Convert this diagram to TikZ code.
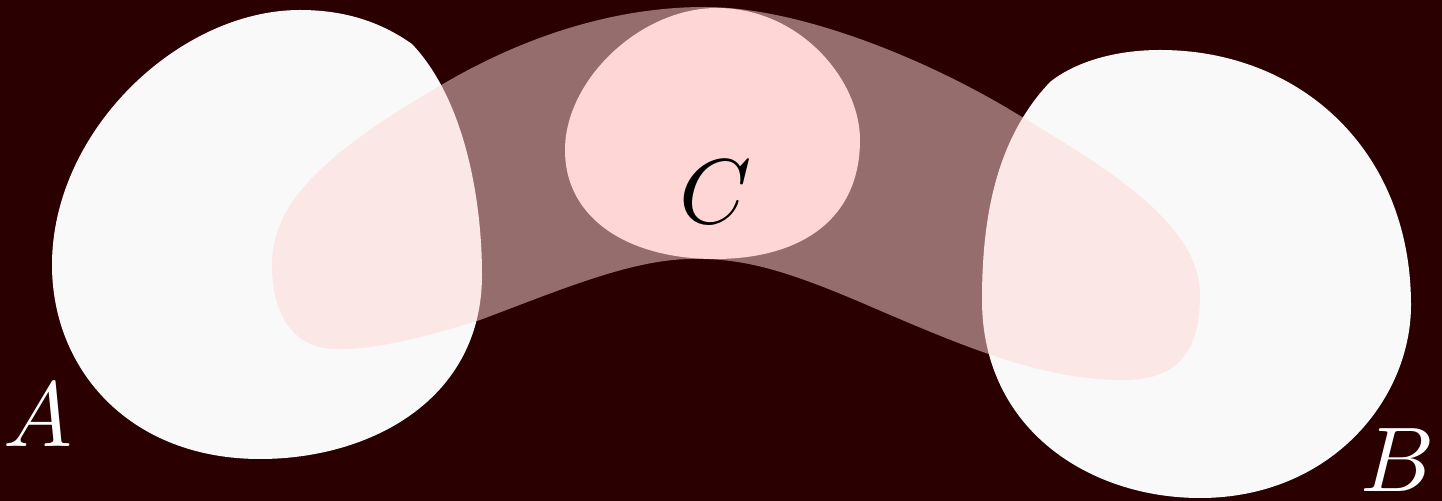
\documentclass[tikz,border=0pt]{standalone}
\definecolor{nightbg}{RGB}{42,0,0}
\definecolor{blobwhite}{RGB}{249,249,249}
\definecolor{blobpink}{RGB}{255,214,214}
\begin{document}
\begin{tikzpicture}[x=0.5pt,y=-0.5pt,
  setblob/.style={fill=blobwhite},
  bandblob/.style={fill=blobpink, fill opacity=0.51},
  midblob/.style={fill=blobpink},
  setlabel/.style={inner sep=0pt, scale=4.6}]
\useasboundingbox (0,0) rectangle (1442,501);
\fill[nightbg] (0,0) rectangle (1442,501);
% set A
\fill[setblob] (412,44) .. controls (465,100) and (482,200) .. (482,275)
  .. controls (482,400) and (370,459) .. (260,459)
  .. controls (130,459) and (52,370) .. (52,265)
  .. controls (52,130) and (180,10) .. (300,10)
  .. controls (350,10) and (385,25) .. (412,44) -- cycle;
% set B
\fill[setblob] (1050,82) .. controls (995,140) and (982,220) .. (982,300)
  .. controls (982,430) and (1090,498) .. (1200,498)
  .. controls (1330,498) and (1411,400) .. (1411,305)
  .. controls (1411,150) and (1300,50) .. (1160,50)
  .. controls (1115,50) and (1075,62) .. (1050,82) -- cycle;
% band between them
\fill[bandblob] (272,265) .. controls (272,200) and (330,150) .. (443,84)
  .. controls (530,33) and (620,7) .. (705,7)
  .. controls (800,7) and (930,60) .. (1022,117)
  .. controls (1110,170) and (1200,225) .. (1200,295)
  .. controls (1200,360) and (1170,380) .. (1123,380)
  .. controls (1040,380) and (960,345) .. (860,302)
  .. controls (780,268) and (740,258) .. (690,259)
  .. controls (630,260) and (560,290) .. (480,320)
  .. controls (400,345) and (360,350) .. (335,349)
  .. controls (290,348) and (272,310) .. (272,265) -- cycle;
% set C
\fill[midblob] (717,8) .. controls (800,8) and (860,80) .. (860,140)
  .. controls (860,220) and (800,259) .. (715,259)
  .. controls (630,259) and (565,220) .. (565,150)
  .. controls (565,80) and (640,8) .. (717,8) -- cycle;
\node[setlabel, text=white] (labA) at (38,415) {$A$};
\node[setlabel, text=white] (labB) at (1398,460) {$B$};
\node[setlabel, text=black] (labC) at (716,192) {$C$};
\end{tikzpicture}
\end{document}
